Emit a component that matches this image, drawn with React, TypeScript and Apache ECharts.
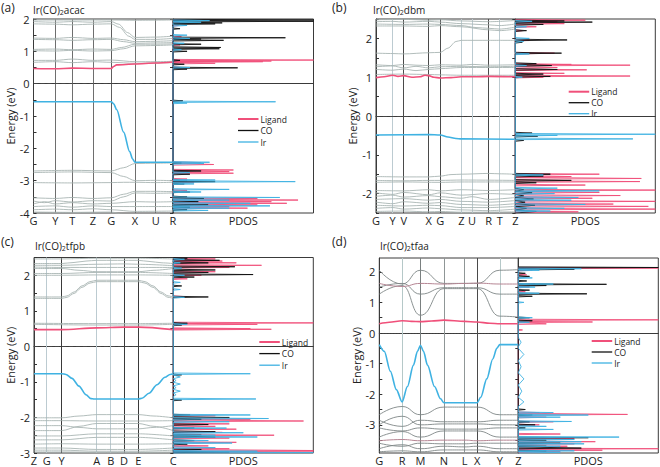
import React, { useEffect, useRef } from 'react';
import * as echarts from 'echarts';

// ---------- Panel (a) Ir(CO)2acac ----------
const kPosA = [0, 21.7, 38.7, 59.3, 77.7, 101.3, 122, 139.3];
const kLabA = ['G', 'Y', 'T', 'Z', 'G', 'X', 'U', 'R'];
const yLabA = [-4, -3, -2, -1, 0, 1, 2];
const bandsAGrey = [
  [[0, 1.97], [77.7, 1.97], [101.3, 1.96], [139.3, 1.97]],
  [[0, 1.92], [21.7, 1.9], [38.7, 1.92], [59.3, 1.9], [77.7, 1.92], [85, 1.84], [94, 1.58], [101.3, 1.43], [122, 1.44], [139.3, 1.47]],
  [[0, 1.85], [21.7, 1.84], [38.7, 1.82], [59.3, 1.84], [77.7, 1.85], [86, 1.74], [95, 1.47], [101.3, 1.37], [122, 1.37], [139.3, 1.4]],
  [[0, 1.41], [21.7, 1.4], [38.7, 1.43], [59.3, 1.4], [77.7, 1.41], [90, 1.36], [101.3, 1.3], [122, 1.31], [139.3, 1.33]],
  [[0, 1.37], [21.7, 1.36], [38.7, 1.34], [59.3, 1.36], [77.7, 1.37], [90, 1.3], [101.3, 1.25], [122, 1.26], [139.3, 1.27]],
  [[0, 1.06], [21.7, 1.07], [38.7, 1.05], [59.3, 1.07], [77.7, 1.06], [88, 1.12], [101.3, 1.22], [122, 1.22], [139.3, 1.23]],
  [[0, 1.02], [21.7, 1.01], [38.7, 1.03], [59.3, 1.01], [77.7, 1.02], [90, 1.08], [101.3, 1.17], [122, 1.18], [139.3, 1.2]],
  [[0, 0.72], [21.7, 0.72], [38.7, 0.76], [59.3, 0.72], [77.7, 0.73], [101.3, 0.68], [122, 0.68], [139.3, 0.69]],
  [[0, 0.66], [21.7, 0.68], [38.7, 0.65], [59.3, 0.68], [77.7, 0.66], [101.3, 0.63], [122, 0.64], [139.3, 0.65]],
  [[0, -2.7], [38.7, -2.68], [77.7, -2.7], [90, -2.6], [101.3, -2.47], [122, -2.46], [139.3, -2.45]],
  [[0, -2.75], [38.7, -2.73], [77.7, -2.75], [90, -2.87], [101.3, -3.0], [122, -2.99], [139.3, -3.0]],
  [[0, -3.06], [38.7, -3.07], [77.7, -3.06], [90, -3.05], [101.3, -3.05], [122, -3.06], [139.3, -3.05]],
  [[0, -3.53], [21.7, -3.55], [38.7, -3.52], [59.3, -3.55], [77.7, -3.53], [90, -3.42], [101.3, -3.33], [122, -3.33], [139.3, -3.34]],
  [[0, -3.63], [11, -3.68], [21.7, -3.62], [38.7, -3.66], [59.3, -3.62], [77.7, -3.63], [90, -3.5], [101.3, -3.38], [122, -3.39], [139.3, -3.38]],
  [[0, -3.72], [11, -3.65], [21.7, -3.72], [38.7, -3.68], [59.3, -3.72], [77.7, -3.7], [101.3, -3.65], [122, -3.66], [139.3, -3.65]],
  [[0, -3.8], [21.7, -3.78], [38.7, -3.82], [59.3, -3.78], [77.7, -3.8], [101.3, -3.8], [139.3, -3.8]],
  [[0, -3.9], [21.7, -3.88], [38.7, -3.9], [59.3, -3.87], [77.7, -3.9], [101.3, -3.95], [139.3, -3.94]],
  [[0, -3.97], [38.7, -3.98], [77.7, -3.97], [90, -4.05], [101.3, -4.1]],
];
const bandARed = [[0, 0.47], [21.7, 0.46], [38.7, 0.48], [59.3, 0.47], [77.7, 0.47], [80, 0.53], [83, 0.58], [101.3, 0.61], [122, 0.64], [139.3, 0.67]];
const bandABlue = [[0, -0.56], [77.7, -0.56], [80, -0.62], [83, -0.8], [90, -1.5], [96, -2.1], [99, -2.33], [101.3, -2.43], [139.3, -2.43]];
const pdosALigand = [[1.96, 8], [1.9, 5], [1.8, 4], [1.45, 6], [1.2, 5], [0.73, 100], [0.7, 70], [0.68, 64], [0.63, 30], [0.5, 5], [-2.44, 20], [-2.5, 29], [-2.67, 43], [-2.72, 40], [-2.77, 43], [-2.95, 10], [-3.05, 15], [-3.3, 10], [-3.55, 60], [-3.6, 89], [-3.65, 70], [-3.7, 81], [-3.75, 60], [-3.8, 40], [-3.85, 53]];
const pdosACO = [[1.97, 100], [1.93, 100], [1.88, 35], [1.85, 30], [1.7, 5], [1.42, 80], [1.38, 20], [1.34, 36], [1.22, 20], [1.12, 34], [1.08, 33], [1.0, 10], [0.72, 5], [0.6, 8], [0.49, 46], [0.45, 10], [-0.53, 7], [-2.45, 6], [-2.7, 20], [-2.8, 12], [-3.0, 10], [-3.03, 30], [-3.1, 8], [-3.35, 12], [-3.5, 10], [-3.55, 22], [-3.65, 18], [-3.75, 25], [-3.82, 12], [-3.9, 10]];
const pdosAIr = [[1.95, 26], [1.9, 20], [1.8, 10], [1.5, 10], [1.4, 12], [1.25, 8], [1.05, 6], [0.5, 12], [-0.56, 73], [-0.6, 10], [-2.43, 26], [-2.47, 22], [-2.75, 12], [-2.98, 30], [-3.03, 87], [-3.1, 15], [-3.27, 40], [-3.35, 20], [-3.52, 76], [-3.6, 40], [-3.7, 55], [-3.78, 69], [-3.85, 40], [-3.92, 25]];

// ---------- Panel (b) Ir(CO)2dbm ----------
const kPosB = [0, 16.7, 27.7, 52.7, 64.3, 85.3, 96, 112.7, 123.7, 139.3];
const kLabB = ['G', 'Y', 'V', 'X', 'G', 'Z', 'U', 'R', 'T', 'Z'];
const yLabB = [-2, -1, 0, 1, 2];
const bandsBGrey = [
  [[0, 2.48], [27.7, 2.49], [52.7, 2.47], [64.3, 2.48], [85.3, 2.45], [112.7, 2.43], [139.3, 2.46]],
  [[0, 2.43], [16.7, 2.44], [27.7, 2.42], [52.7, 2.44], [64.3, 2.42], [85.3, 2.38], [112.7, 2.35], [123.7, 2.33], [139.3, 2.37]],
  [[0, 2.37], [27.7, 2.36], [52.7, 2.37], [64.3, 2.36], [85.3, 2.33], [100, 2.28], [112.7, 2.26], [123.7, 2.24], [139.3, 2.29]],
  [[0, 2.32], [27.7, 2.32], [52.7, 2.31], [64.3, 2.33], [85.3, 2.3], [112.7, 2.22], [123.7, 2.2], [139.3, 2.24]],
  [[0, 1.62], [16.7, 1.61], [27.7, 1.6], [52.7, 1.63], [64.3, 1.64], [72, 1.75], [80, 1.92], [85.3, 1.95], [112.7, 1.95], [139.3, 1.95]],
  [[0, 1.32], [16.7, 1.3], [27.7, 1.33], [40, 1.31], [52.7, 1.3], [64.3, 1.32], [85.3, 1.31], [96, 1.33], [112.7, 1.31], [139.3, 1.32]],
  [[0, 1.27], [16.7, 1.29], [27.7, 1.24], [40, 1.28], [52.7, 1.24], [64.3, 1.27], [85.3, 1.28], [112.7, 1.27], [139.3, 1.28]],
  [[0, 1.2], [16.7, 1.18], [27.7, 1.21], [40, 1.17], [52.7, 1.2], [64.3, 1.22], [85.3, 1.25], [139.3, 1.25]],
  [[0, 1.07], [27.7, 1.08], [52.7, 1.07], [64.3, 1.06], [85.3, 1.05], [139.3, 1.05]],
  [[0, -1.56], [27.7, -1.57], [52.7, -1.57], [64.3, -1.55], [75, -1.51], [85.3, -1.5], [112.7, -1.48], [123.7, -1.49], [139.3, -1.5]],
  [[0, -1.66], [27.7, -1.67], [52.7, -1.66], [64.3, -1.66], [85.3, -1.65], [139.3, -1.66]],
  [[0, -1.71], [27.7, -1.7], [64.3, -1.71], [85.3, -1.7], [139.3, -1.7]],
  [[0, -1.92], [27.7, -1.93], [52.7, -1.9], [64.3, -1.93], [85.3, -1.9], [112.7, -1.92], [139.3, -1.9]],
  [[0, -1.98], [16.7, -2.02], [27.7, -1.97], [52.7, -2.03], [64.3, -1.98], [85.3, -2.04], [112.7, -2.0], [139.3, -2.02]],
  [[0, -2.07], [16.7, -2.04], [27.7, -2.09], [52.7, -2.05], [64.3, -2.08], [85.3, -2.12], [96, -2.08], [112.7, -2.15], [139.3, -2.1]],
  [[0, -2.15], [27.7, -2.13], [52.7, -2.17], [64.3, -2.15], [85.3, -2.2], [112.7, -2.22], [139.3, -2.18]],
  [[0, -2.22], [16.7, -2.26], [27.7, -2.21], [52.7, -2.25], [64.3, -2.23], [85.3, -2.28], [112.7, -2.3], [139.3, -2.26]],
  [[0, -2.3], [27.7, -2.32], [52.7, -2.3], [64.3, -2.31], [85.3, -2.36], [112.7, -2.36], [139.3, -2.33]],
  [[0, -2.38], [16.7, -2.36], [27.7, -2.4], [52.7, -2.37], [64.3, -2.39], [85.3, -2.42], [112.7, -2.44], [139.3, -2.4]],
  [[0, -2.46], [27.7, -2.45], [52.7, -2.47], [64.3, -2.46], [85.3, -2.48], [139.3, -2.47]],
];
const bandBRed = [[0, 0.99], [8, 1.01], [16.7, 1.05], [22, 1.02], [27.7, 1.04], [36, 1.0], [44, 1.01], [49, 1.05], [52.7, 1.04], [58, 1.0], [64.3, 0.98], [75, 0.99], [85.3, 1.01], [100, 1.01], [112.7, 1.02], [139.3, 1.01]];
const bandBBlue = [[0, -0.49], [52.7, -0.48], [64.3, -0.49], [72, -0.54], [80, -0.58], [85.3, -0.59], [139.3, -0.6]];
const pdosBLigand = [[2.47, 50], [2.43, 30], [2.38, 35], [2.3, 15], [2.2, 5], [1.95, 10], [1.62, 28], [1.33, 40], [1.31, 82], [1.25, 30], [1.19, 51], [1.1, 35], [1.03, 82], [1.0, 20], [-1.5, 60], [-1.56, 40], [-1.61, 90], [-1.69, 89], [-1.78, 50], [-1.91, 100], [-1.97, 60], [-2.05, 75], [-2.12, 55], [-2.2, 100], [-2.27, 70], [-2.33, 95], [-2.4, 100], [-2.47, 45]];
const pdosBCO = [[2.45, 35], [2.42, 55], [2.36, 20], [2.2, 8], [1.96, 37], [1.9, 5], [1.62, 33], [1.35, 15], [1.3, 26], [1.2, 30], [1.08, 20], [1.02, 25], [-0.44, 12], [-0.52, 16], [-0.63, 6], [-1.5, 25], [-1.55, 20], [-1.66, 40], [-1.72, 15], [-1.9, 6, 0.04], [-1.98, 12, 0.04], [-2.06, 6, 0.04], [-2.14, 13, 0.04], [-2.22, 7, 0.04], [-2.3, 14, 0.04], [-2.38, 8, 0.04], [-2.46, 15, 0.04]];
const pdosBIr = [[2.44, 12], [2.3, 8], [2.0, 10], [1.92, 6], [1.6, 10], [1.3, 8], [1.0, 5], [-0.47, 100], [-0.5, 30], [-0.59, 84], [-1.52, 20], [-1.86, 30], [-1.93, 60], [-2.0, 28], [-2.1, 45], [-2.17, 40], [-2.28, 50], [-2.38, 35], [-2.45, 25]];

// ---------- Panel (c) Ir(CO)2tfpb ----------
const kPosC = [0, 12.7, 27.7, 62.7, 76.7, 90, 104.3, 139.3];
const kLabC = ['Z', 'G', 'Y', 'A', 'B', 'D', 'E', 'C'];
const yLabC = [-3, -2, -1, 0, 1, 2];
const bandsCGrey = [
  [[0, 2.46], [27.7, 2.46], [62.7, 2.48], [104.3, 2.48], [139.3, 2.46]],
  [[0, 2.33], [27.7, 2.33], [40, 2.36], [52, 2.4], [62.7, 2.42], [104.3, 2.42], [115, 2.39], [128, 2.35], [139.3, 2.33]],
  [[0, 2.28], [27.7, 2.28], [62.7, 2.31], [90, 2.32], [104.3, 2.31], [139.3, 2.27]],
  [[0, 2.23], [27.7, 2.22], [62.7, 2.22], [104.3, 2.22], [139.3, 2.22]],
  [[0, 2.19], [27.7, 2.19], [45, 2.14], [62.7, 2.1], [104.3, 2.1], [120, 2.14], [139.3, 2.19]],
  [[0, 2.05], [27.7, 2.05], [62.7, 2.08], [104.3, 2.08], [139.3, 2.05]],
  [[0, 2.0], [27.7, 2.0], [62.7, 2.01], [104.3, 2.01], [139.3, 2.0]],
  [[0, 1.39], [27.7, 1.39], [33, 1.42], [40, 1.53], [48, 1.7], [56, 1.82], [62.7, 1.86], [104.3, 1.86], [111, 1.82], [119, 1.7], [127, 1.53], [134, 1.42], [139.3, 1.39]],
  [[0, 1.35], [27.7, 1.35], [33, 1.38], [40, 1.49], [48, 1.66], [56, 1.78], [62.7, 1.82], [104.3, 1.82], [111, 1.78], [119, 1.66], [127, 1.49], [134, 1.38], [139.3, 1.35]],
  [[0, 0.65], [62.7, 0.64], [104.3, 0.64], [139.3, 0.65]],
  [[0, 0.62], [62.7, 0.6], [104.3, 0.6], [139.3, 0.62]],
  [[0, -2.01], [27.7, -2.01], [45, -1.96], [62.7, -1.92], [104.3, -1.92], [120, -1.96], [139.3, -2.01]],
  [[0, -2.09], [27.7, -2.09], [62.7, -2.1], [104.3, -2.1], [139.3, -2.09]],
  [[0, -2.23], [27.7, -2.23], [45, -2.28], [62.7, -2.32], [104.3, -2.32], [120, -2.28], [139.3, -2.23]],
  [[0, -2.37], [27.7, -2.37], [45, -2.25], [62.7, -2.17], [104.3, -2.17], [120, -2.25], [139.3, -2.37]],
  [[0, -2.52], [27.7, -2.52], [62.7, -2.46], [104.3, -2.46], [139.3, -2.52]],
  [[0, -2.63], [27.7, -2.63], [62.7, -2.56], [104.3, -2.56], [139.3, -2.63]],
  [[0, -2.75], [27.7, -2.74], [62.7, -2.75], [104.3, -2.75], [139.3, -2.74]],
  [[0, -2.86], [27.7, -2.86], [62.7, -2.9], [104.3, -2.9], [139.3, -2.86]],
  [[0, -2.92], [27.7, -2.92], [62.7, -2.95], [104.3, -2.95], [139.3, -2.92]],
  [[0, -2.97], [27.7, -2.97], [62.7, -2.98], [104.3, -2.98], [139.3, -2.97]],
];
const bandCRed = [[0, 0.47], [12.7, 0.47], [27.7, 0.47], [62.7, 0.52], [90, 0.54], [104.3, 0.54], [139.3, 0.47]];
const bandCBlue = [[0, -0.77], [27.7, -0.77], [32, -0.79], [38, -0.9], [45, -1.12], [52, -1.36], [57, -1.47], [60, -1.48], [104.3, -1.48], [108, -1.46], [115, -1.32], [123, -1.08], [131, -0.87], [136, -0.79], [139.3, -0.77]];
const pdosCLigand = [[2.46, 30], [2.4, 35], [2.35, 45], [2.28, 63], [2.22, 40], [2.1, 30], [2.0, 20], [1.9, 10], [1.4, 8], [0.66, 100], [0.62, 60], [0.5, 55], [0.48, 70], [-1.95, 30], [-2.05, 55], [-2.1, 93], [-2.18, 40], [-2.25, 30], [-2.33, 45], [-2.42, 35], [-2.5, 72], [-2.58, 40], [-2.7, 45], [-2.8, 25], [-2.88, 40], [-2.93, 100], [-2.97, 100]];
const pdosCCO = [[2.48, 10], [2.42, 33], [2.35, 25], [2.24, 44], [2.15, 30], [2.08, 25], [2.02, 57], [1.95, 15], [1.7, 6], [1.39, 25], [0.65, 10], [0.6, 6], [-0.8, 6], [-1.51, 6], [-1.93, 12], [-2.0, 40], [-2.05, 20], [-2.2, 25], [-2.3, 15], [-2.4, 30], [-2.5, 20], [-2.55, 30], [-2.65, 15], [-2.75, 10], [-2.9, 20], [-2.97, 40]];
const pdosCIr = [[2.45, 8], [2.35, 5], [2.2, 6], [2.0, 8], [1.8, 5], [1.6, 5], [1.38, 8], [0.62, 10], [-0.77, 55], [-0.86, 5, 0.05], [-0.96, 2, 0.05], [-1.06, 5, 0.05], [-1.16, 2, 0.05], [-1.26, 5, 0.05], [-1.36, 2, 0.05], [-1.48, 59], [-1.93, 55], [-2.03, 68], [-2.12, 40], [-2.3, 38], [-2.43, 50], [-2.5, 30], [-2.55, 60], [-2.65, 25], [-2.72, 42], [-2.85, 30], [-2.95, 60], [-2.99, 100]];

// ---------- Panel (d) Ir(CO)2tfaa ----------
const kPosD = [0, 22.7, 41, 64.4, 85, 97.4, 120, 138.4];
const kLabD = ['G', 'R', 'M', 'N', 'L', 'X', 'Y', 'Z'];
const yLabD = [-3, -2, -1, 0, 1, 2];
const bandsDGrey = [
  [[0, 2.05], [22.7, 1.6], [41, 2.05], [64.4, 1.62], [85, 1.62], [97.4, 1.62], [120, 2.05], [138.4, 2.07]],
  [[0, 1.5], [22.7, 1.62], [41, 1.27], [64.4, 1.48], [85, 1.48], [97.4, 1.48], [120, 1.27], [138.4, 1.27]],
  [[0, 1.27], [22.7, 1.55], [41, 0.58], [64.4, 1.45], [85, 1.45], [97.4, 1.45], [120, 0.55], [138.4, 0.52]],
  [[0, -2.67], [22.7, -2.4], [41, -2.67], [64.4, -2.42], [85, -2.42], [97.4, -2.42], [120, -2.67], [138.4, -2.67]],
  [[0, -2.85], [22.7, -3.05], [41, -2.85], [64.4, -2.9], [85, -2.9], [97.4, -2.9], [120, -2.85], [138.4, -2.85]],
  [[0, -3.0], [22.7, -2.72], [41, -3.0], [64.4, -2.97], [85, -2.97], [97.4, -2.97], [120, -3.0], [138.4, -3.0]],
  [[0, -3.1], [22.7, -3.2], [41, -3.1], [64.4, -3.14], [85, -3.14], [97.4, -3.14], [120, -3.1], [138.4, -3.1]],
  [[0, -3.4], [22.7, -3.22], [41, -3.4], [64.4, -3.2], [85, -3.2], [97.4, -3.2], [120, -3.4], [138.4, -3.4]],
  [[0, -3.6], [22.7, -3.7], [41, -3.6], [64.4, -3.62], [85, -3.62], [97.4, -3.6], [120, -3.6], [138.4, -3.6]],
  [[0, -3.78], [22.7, -3.65], [41, -3.78], [64.4, -3.7], [85, -3.72], [97.4, -3.7], [120, -3.78], [138.4, -3.78]],
  [[0, -3.88], [22.7, -3.85], [41, -3.88], [64.4, -3.82], [85, -3.82], [97.4, -3.82], [120, -3.88], [138.4, -3.88]],
];
const bandsDMauve = [
  [[0, 1.62], [22.7, 1.52], [41, 1.62], [64.4, 1.6], [85, 1.62], [97.4, 1.63], [120, 1.6], [138.4, 1.6]],
  [[0, -3.52], [22.7, -3.48], [41, -3.52], [64.4, -3.5], [85, -3.5], [97.4, -3.52], [120, -3.5], [138.4, -3.5]],
];
const bandDRed = [[0, 0.3], [10, 0.35], [22.7, 0.4], [32, 0.38], [41, 0.37], [52, 0.39], [64.4, 0.42], [85, 0.38], [97.4, 0.36], [110, 0.32], [120, 0.3], [138.4, 0.3]];
const bandDBlue = [[0, -0.38], [5, -0.6], [11, -1.25], [17, -1.85], [22.7, -2.25], [28, -1.75], [34, -1.05], [38, -0.6], [41, -0.4], [44, -0.6], [48, -1.05], [55, -1.75], [61, -2.15], [64.4, -2.28], [97.4, -2.28], [101, -2.1], [107, -1.5], [113, -0.85], [117, -0.5], [120, -0.38], [138.4, -0.38]];
const pdosDLigand = [[2.12, 100], [2.05, 10], [1.9, 6], [1.6, 12], [1.5, 8], [1.35, 5], [0.43, 100], [0.36, 53], [0.3, 20], [0.1, 3], [-2.6, 15], [-2.66, 78], [-2.75, 20], [-2.9, 25], [-3.0, 15], [-3.3, 30], [-3.45, 40], [-3.55, 55], [-3.62, 40], [-3.7, 35], [-3.78, 100], [-3.83, 60], [-3.88, 30]];
const pdosDCO = [[2.14, 100], [2.08, 40], [1.95, 5], [1.85, 8], [1.7, 6], [1.59, 63], [1.55, 20], [1.4, 8], [1.28, 49], [1.2, 10], [0.5, 8], [0.4, 10], [-2.5, 5], [-2.68, 10], [-2.9, 8], [-3.0, 12], [-3.1, 5], [-3.42, 50], [-3.5, 20], [-3.6, 30], [-3.7, 20], [-3.76, 45], [-3.85, 20]];
const pdosDIr = [[2.1, 45], [2.05, 15], [1.8, 10], [1.6, 25], [1.5, 12], [1.3, 15], [1.0, 4], [0.5, 10], [0.35, 8], [-0.3, 2, 0.15], [-0.7, 4, 0.2], [-1.1, 2, 0.2], [-1.5, 4, 0.2], [-1.9, 2.5, 0.2], [-2.25, 4, 0.15], [-2.6, 25], [-2.68, 50], [-2.75, 30], [-2.89, 38], [-3.05, 20], [-3.15, 25], [-3.4, 72], [-3.48, 40], [-3.55, 45], [-3.62, 47], [-3.7, 30], [-3.85, 40], [-3.9, 30]];

const titles = ['acac', 'dbm', 'tfpb', 'tfaa'];
const panelTags = ['(a)', '(b)', '(c)', '(d)'];
const legendNames = ['Ligand', 'CO', 'Ir'];

// ---------- styling / layout ----------
const FONT = '"Open Sans", "DejaVu Sans", sans-serif';
const C_LIG = '#f0507a';
const C_CO = '#111111';
const C_IR = '#3fb2e2';
const C_GREY = '#a9b5b3';
const C_GREY_D = '#7f8787';
const C_MAUVE = '#b58593';
const LIGHT = '#bccbd1';
const DARK = '#4a4a4a';

const panels = [
  {
    band: { left: 33.5, top: 19, width: 139.5, height: 194 }, pdos: { left: 173, top: 19, width: 140.5, height: 194 },
    yMin: -4, yMax: 2, yLab: yLabA, kPos: kPosA, kLab: kLabA, nameGap: 16,
    vcol: ['#6e6e6e', '#6e6e6e', '#6e6e6e', '#5e5e5e', '#6e6e6e', '#6e6e6e'],
    grey: bandsAGrey, greyColor: C_GREY, mauve: [], red: bandARed, blue: bandABlue, smooth: 0.3,
    pdos3: [pdosALigand, pdosACO, pdosAIr], zeroType: [4, 3],
    tag: [1, 1], title: [33, 4], legend: [238, 119, 11.5],
  },
  {
    band: { left: 376, top: 19, width: 139.3, height: 194 }, pdos: { left: 515.3, top: 19, width: 140, height: 194 },
    yMin: -2.5, yMax: 2.5, yLab: yLabB, kPos: kPosB, kLab: kLabB, nameGap: 18,
    vcol: [LIGHT, DARK, DARK, DARK, LIGHT, LIGHT, DARK, LIGHT],
    grey: bandsBGrey, greyColor: C_GREY, mauve: [], red: bandBRed, blue: bandBBlue, smooth: 0.3,
    pdos3: [pdosBLigand, pdosBCO, pdosBIr], zeroType: [4, 3],
    tag: [332, 1], title: [373, 4], legend: [568.7, 91.7, 11],
  },
  {
    band: { left: 34, top: 257.5, width: 139.3, height: 195.5 }, pdos: { left: 173.3, top: 257.5, width: 140, height: 195.5 },
    yMin: -3, yMax: 2.5, yLab: yLabC, kPos: kPosC, kLab: kLabC, nameGap: 17,
    vcol: [LIGHT, '#3a3a3a', LIGHT, LIGHT, '#3a3a3a', '#3a3a3a'],
    grey: bandsCGrey, greyColor: C_GREY, mauve: [], red: bandCRed, blue: bandCBlue, smooth: 0.3,
    pdos3: [pdosCLigand, pdosCCO, pdosCIr], zeroType: [4, 3],
    tag: [1, 235], title: [35, 240], legend: [259.3, 342, 11.6],
  },
  {
    band: { left: 379.3, top: 258, width: 139, height: 195 }, pdos: { left: 518.3, top: 258, width: 140, height: 195 },
    yMin: -3.92, yMax: 2.45, yLab: yLabD, kPos: kPosD, kLab: kLabD, nameGap: 13,
    vcol: ['#b5c8c8', '#7a8080', '#8f9696', '#8f9696', DARK, '#b5c8c8'],
    grey: bandsDGrey, greyColor: C_GREY_D, mauve: bandsDMauve, red: bandDRed, blue: bandDBlue, smooth: 0.5,
    pdos3: [pdosDLigand, pdosDCO, pdosDIr], zeroType: [1.5, 1.5],
    tag: [332, 235], title: [380, 240], legend: [591.7, 341, 11],
  },
];

function spikes(peaks: number[][]) {
  const s = [...peaks].sort((p, q) => q[0] - p[0]);
  const out: number[][] = [];
  for (const p of s) {
    const e = p[0], v = p[1], w = p[2] ?? 0.02;
    out.push([0, e + w], [v, e], [0, e - w]);
  }
  return out;
}

function halfTicks(min: number, max: number, labels: number[]) {
  const t: number[] = [];
  for (const l of labels) {
    [l - 0.5, l, l + 0.5].forEach((v) => { if (v >= min - 1e-9 && v <= max + 1e-9 && !t.includes(v)) t.push(v); });
  }
  return t.sort((a, b) => a - b);
}

function buildOption() {
  const grid: any[] = [];
  const xAxis: any[] = [];
  const yAxis: any[] = [];
  const series: any[] = [];
  const graphic: any[] = [];
  const frame = { show: true, borderColor: '#3a3a3a', borderWidth: 1, backgroundColor: 'transparent' };
  const lineAxis = { show: true, lineStyle: { color: '#3a3a3a', width: 1 } };

  panels.forEach((p, i) => {
    const gb = 2 * i, gp = 2 * i + 1;
    grid.push({ ...p.band, ...frame });
    grid.push({ ...p.pdos, ...frame });
    const kMax = p.kPos[p.kPos.length - 1];
    const ticks = halfTicks(p.yMin, p.yMax, p.yLab);
    xAxis.push({
      gridIndex: gb, type: 'value', min: 0, max: kMax, axisLine: lineAxis, axisTick: { show: false }, splitLine: { show: false },
      axisLabel: {
        customValues: p.kPos, formatter: (v: number) => { const j = p.kPos.indexOf(v); return j >= 0 ? p.kLab[j] : ''; },
        fontSize: 11, lineHeight: 12, color: '#222', margin: 1, fontFamily: FONT,
      },
    });
    xAxis.push({
      gridIndex: gp, type: 'value', min: 0, max: 100, axisLine: lineAxis, axisTick: { show: false }, axisLabel: { show: false }, splitLine: { show: false },
      name: 'PDOS', nameLocation: 'middle', nameGap: 1, nameTextStyle: { fontSize: 11, lineHeight: 12, color: '#222', fontFamily: FONT, verticalAlign: 'top' },
    });
    yAxis.push({
      gridIndex: gb, type: 'value', min: p.yMin, max: p.yMax, position: 'left', axisLine: lineAxis,
      axisTick: { show: true, inside: true, length: 3, customValues: ticks, lineStyle: { color: '#333' } },
      axisLabel: { customValues: p.yLab, fontSize: 11, color: '#222', margin: 4, fontFamily: FONT },
      splitLine: { show: false },
      name: 'Energy (eV)', nameLocation: 'middle', nameGap: p.nameGap, nameRotate: 90, nameTextStyle: { fontSize: 11, color: '#222', fontFamily: FONT },
    });
    yAxis.push({
      gridIndex: gp, type: 'value', min: p.yMin, max: p.yMax, position: 'right', axisLine: lineAxis,
      axisTick: { show: true, inside: true, length: 3, customValues: ticks, lineStyle: { color: '#333' } },
      axisLabel: { show: false }, splitLine: { show: false },
    });

    const marks: any[] = p.kPos.slice(1, -1).map((k, j) => ({ xAxis: k, lineStyle: { color: p.vcol[j], width: 1, type: 'solid' } }));
    marks.push({ yAxis: 0, lineStyle: { color: '#444', width: 1, type: p.zeroType } });

    p.grey.forEach((b, j) => {
      const s: any = {
        type: 'line', xAxisIndex: gb, yAxisIndex: gb, data: b, symbol: 'none', smooth: p.smooth, smoothMonotone: 'x',
        lineStyle: { color: p.greyColor, width: 0.9 }, silent: true, z: 2, clip: true,
      };
      if (j === 0) {
        s.markLine = { symbol: ['none', 'none'], silent: true, label: { show: false }, emphasis: { disabled: true }, data: marks, z: 1 };
      }
      series.push(s);
    });
    p.mauve.forEach((b) => series.push({
      type: 'line', xAxisIndex: gb, yAxisIndex: gb, data: b, symbol: 'none', smooth: p.smooth, smoothMonotone: 'x',
      lineStyle: { color: C_MAUVE, width: 1 }, silent: true, z: 3, clip: true,
    }));
    series.push({
      type: 'line', xAxisIndex: gb, yAxisIndex: gb, data: p.red, symbol: 'none', smooth: 0.3, smoothMonotone: 'x',
      lineStyle: { color: C_LIG, width: 1.6 }, silent: true, z: 4, clip: true,
    });
    series.push({
      type: 'line', xAxisIndex: gb, yAxisIndex: gb, data: p.blue, symbol: 'none', smooth: 0.3, smoothMonotone: 'x',
      lineStyle: { color: C_IR, width: 1.6 }, silent: true, z: 4, clip: true,
    });
    const cols = [C_LIG, C_CO, C_IR];
    p.pdos3.forEach((pk, j) => {
      series.push({
        name: legendNames[j], type: 'line', xAxisIndex: gp, yAxisIndex: gp, data: spikes(pk), symbol: 'none',
        lineStyle: { color: cols[j], width: 0.9 }, silent: true, z: j === 2 ? 4 : 3, clip: true,
      });
    });

    graphic.push({ type: 'text', x: p.tag[0], y: p.tag[1], style: { text: panelTags[i], fontSize: 12, fontFamily: FONT, fill: '#222' } });
    graphic.push({
      type: 'text', x: p.title[0], y: p.title[1],
      style: {
        text: `{n|Ir(CO)}{s|2}{n|${titles[i]}}`, fill: '#222',
        rich: { n: { fontSize: 10, fontFamily: FONT, lineHeight: 12, fill: '#222' }, s: { fontSize: 7, fontFamily: FONT, lineHeight: 12, verticalAlign: 'bottom', fill: '#222' } },
      },
    });
    const [lx, ly, dy] = p.legend;
    legendNames.forEach((nm, j) => {
      const y = ly + j * dy;
      graphic.push({ type: 'line', shape: { x1: lx, y1: y, x2: lx + 20.5, y2: y }, style: { stroke: cols[j], lineWidth: j === 0 ? 2 : 1.3 } });
      graphic.push({ type: 'text', x: lx + 22.5, y, style: { text: nm, fontSize: 8.5, lineHeight: 9, fontFamily: FONT, fill: '#222', verticalAlign: 'middle' } });
    });
  });

  return { animation: false, backgroundColor: '#ffffff', grid, xAxis, yAxis, series, graphic };
}

export default function App() {
  const ref = useRef<HTMLDivElement>(null);
  useEffect(() => {
    if (!ref.current) return;
    const chart = echarts.init(ref.current, null, { renderer: 'svg' });
    chart.setOption(buildOption() as any);
    return () => chart.dispose();
  }, []);
  return <div ref={ref} style={{ position: 'fixed', left: 0, top: 0, width: 660, height: 467, background: '#fff' }} />;
}
